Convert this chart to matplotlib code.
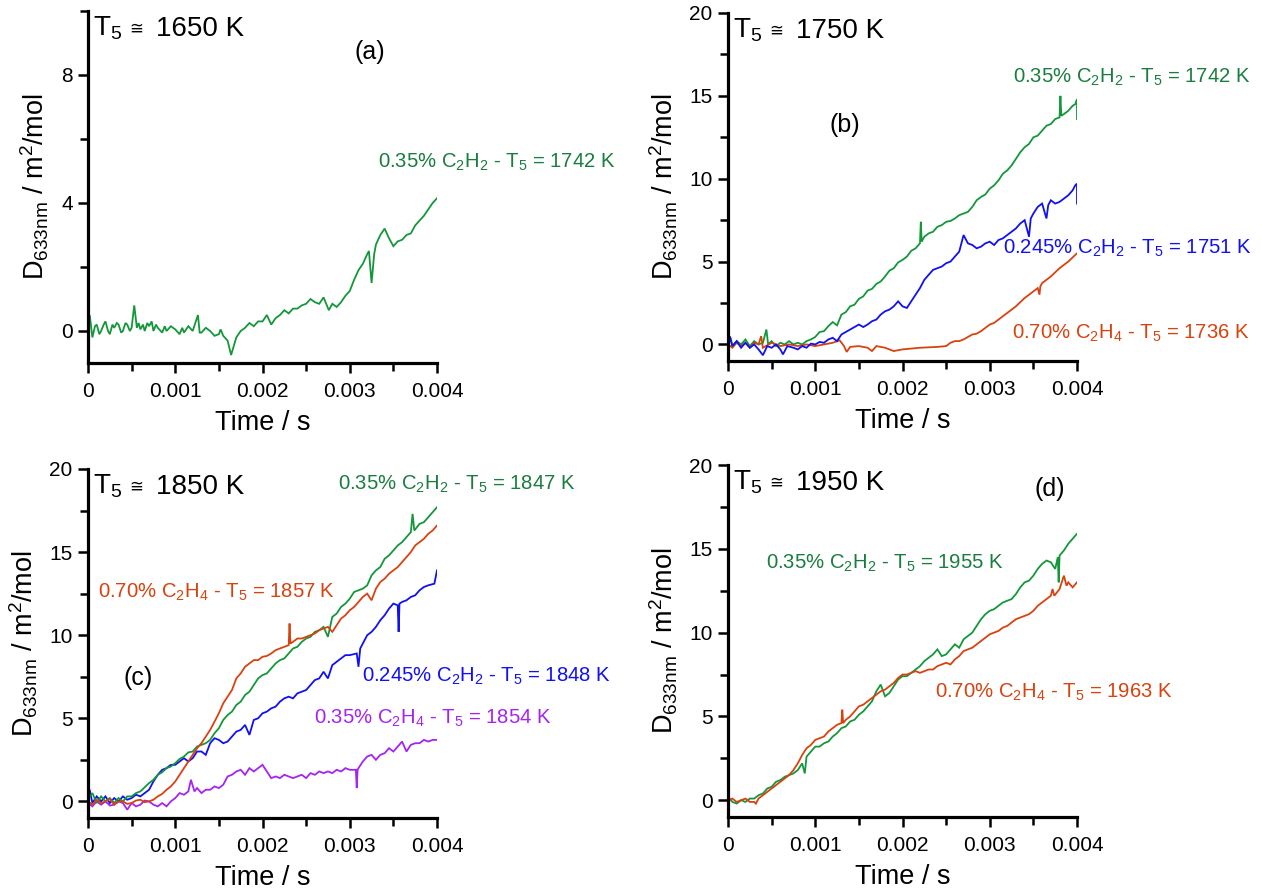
import numpy as np
import matplotlib
matplotlib.use("Agg")
import matplotlib.pyplot as plt
from matplotlib.ticker import MultipleLocator, FixedLocator, FixedFormatter
from matplotlib.transforms import offset_copy

plt.rcParams['font.family'] = ['Liberation Sans', 'DejaVu Sans']
plt.rcParams['mathtext.fontset'] = 'custom'
plt.rcParams['mathtext.rm'] = 'Liberation Sans'
plt.rcParams['mathtext.it'] = 'Liberation Sans'
plt.rcParams['mathtext.bf'] = 'Liberation Sans:bold'

# ---------------- data (time in ms, D in m2/mol) ----------------
a_green = [(0, 0.1), (0.02, 0.5), (0.05, -0.2), (0.08, 0.15), (0.1, 0.2), (0.13, -0.1), (0.15, 0.0),
           (0.18, 0.2), (0.2, 0.3), (0.23, 0.0), (0.25, -0.1), (0.28, 0.2), (0.3, 0.1), (0.33, 0.25),
           (0.35, 0.2), (0.38, -0.05), (0.4, 0.0), (0.43, 0.25), (0.45, 0.2), (0.48, 0.0), (0.5, 0.1),
           (0.53, 0.8), (0.56, 0.1), (0.58, 0.25), (0.6, 0.05), (0.63, 0.2), (0.65, 0.0), (0.68, 0.25),
           (0.7, 0.15), (0.73, 0.3), (0.75, 0.0), (0.78, 0.2), (0.8, 0.1), (0.85, -0.05), (0.88, 0.15),
           (0.9, 0.0), (0.95, 0.15), (1.0, 0.05), (1.05, -0.1), (1.08, 0.1), (1.1, -0.05), (1.15, 0.15),
           (1.2, 0.0), (1.26, 0.5), (1.28, -0.05), (1.3, -0.05), (1.35, 0.1), (1.4, 0.0), (1.45, -0.15),
           (1.5, -0.1), (1.52, 0.05), (1.55, -0.15), (1.6, -0.3), (1.64, -0.75), (1.7, -0.2), (1.75, 0.0),
           (1.8, 0.1), (1.85, 0.25), (1.9, 0.15), (1.95, 0.3), (2.0, 0.3), (2.05, 0.5), (2.1, 0.2),
           (2.15, 0.4), (2.2, 0.5), (2.25, 0.65), (2.3, 0.55), (2.35, 0.7), (2.4, 0.7), (2.45, 0.8),
           (2.5, 0.85), (2.55, 1.0), (2.6, 0.9), (2.65, 0.85), (2.7, 1.05), (2.76, 0.65), (2.8, 0.85),
           (2.85, 0.75), (2.9, 0.9), (2.95, 1.1), (3.0, 1.25), (3.05, 1.6), (3.1, 1.9), (3.15, 2.1),
           (3.2, 2.4), (3.22, 2.5), (3.25, 1.5), (3.28, 2.4), (3.3, 2.7), (3.35, 3.0), (3.4, 3.2),
           (3.45, 2.9), (3.5, 2.65), (3.55, 2.8), (3.6, 2.85), (3.65, 3.0), (3.7, 3.05), (3.75, 3.3),
           (3.8, 3.45), (3.85, 3.6), (3.9, 3.8), (3.95, 4.0), (4.0, 4.15)]

b_green = [(0, 0.1), (0.03, 0.4), (0.05, -0.1), (0.1, 0.2), (0.15, 0.0), (0.2, 0.3), (0.25, -0.1),
           (0.3, 0.2), (0.35, 0.0), (0.4, 0.1), (0.44, 0.9), (0.46, 0.0), (0.5, 0.2), (0.55, -0.1),
           (0.6, 0.1), (0.65, 0.0), (0.7, 0.2), (0.75, 0.0), (0.8, 0.1), (0.85, 0.0), (0.9, 0.2),
           (0.95, 0.3), (1.0, 0.45), (1.05, 0.75), (1.1, 0.8), (1.15, 1.1), (1.2, 1.35), (1.25, 1.15),
           (1.3, 1.8), (1.35, 1.95), (1.4, 2.3), (1.45, 2.4), (1.5, 2.75), (1.55, 2.9), (1.6, 3.25),
           (1.65, 3.35), (1.7, 3.65), (1.75, 3.8), (1.8, 4.1), (1.85, 4.45), (1.9, 4.6), (1.95, 4.95),
           (2.0, 5.1), (2.05, 5.3), (2.1, 5.65), (2.15, 5.8), (2.2, 6.1), (2.21, 7.4), (2.22, 6.2),
           (2.25, 6.5), (2.3, 6.7), (2.35, 6.8), (2.4, 7.1), (2.45, 7.2), (2.5, 7.4), (2.55, 7.45),
           (2.6, 7.6), (2.65, 7.8), (2.7, 7.9), (2.75, 8.0), (2.8, 8.3), (2.85, 8.7), (2.9, 8.9),
           (2.95, 9.05), (3.0, 9.4), (3.05, 9.6), (3.1, 9.9), (3.15, 10.3), (3.2, 10.5), (3.25, 10.8),
           (3.3, 11.2), (3.35, 11.6), (3.4, 11.9), (3.45, 12.1), (3.5, 12.5), (3.55, 12.6), (3.6, 12.9),
           (3.65, 13.2), (3.7, 13.3), (3.75, 13.6), (3.8, 13.7), (3.81, 15.0), (3.82, 13.8), (3.85, 13.9),
           (3.9, 14.1), (3.95, 14.4), (3.98, 14.5), (4.0, 14.8), (4.0, 13.6)]

b_blue = [(0, 0.0), (0.02, 0.5), (0.05, -0.1), (0.1, 0.2), (0.15, -0.2), (0.2, 0.1), (0.25, -0.2),
          (0.3, 0.0), (0.35, -0.3), (0.4, -0.65), (0.45, -0.1), (0.5, -0.2), (0.55, 0.0), (0.6, -0.3),
          (0.63, -0.6), (0.68, -0.1), (0.75, -0.2), (0.8, -0.3), (0.85, -0.1), (0.9, -0.2), (0.95, 0.05),
          (1.0, 0.0), (1.05, 0.15), (1.1, 0.1), (1.15, 0.3), (1.2, 0.4), (1.25, 0.2), (1.3, 0.6),
          (1.35, 0.75), (1.4, 0.9), (1.45, 1.05), (1.5, 1.2), (1.55, 1.05), (1.6, 1.2), (1.65, 1.4),
          (1.7, 1.5), (1.75, 1.8), (1.8, 2.0), (1.85, 2.1), (1.9, 2.3), (1.95, 2.6), (2.0, 2.3),
          (2.05, 2.2), (2.1, 2.6), (2.15, 3.0), (2.2, 3.4), (2.25, 3.9), (2.3, 4.2), (2.35, 4.5),
          (2.4, 4.6), (2.45, 4.7), (2.5, 4.9), (2.55, 5.0), (2.6, 5.3), (2.65, 5.6), (2.7, 6.6),
          (2.75, 6.1), (2.8, 6.0), (2.85, 5.8), (2.9, 5.9), (2.95, 6.1), (3.0, 6.2), (3.05, 6.0),
          (3.1, 6.3), (3.15, 6.4), (3.2, 6.6), (3.25, 6.8), (3.3, 7.0), (3.35, 7.3), (3.4, 7.5),
          (3.45, 6.5), (3.47, 7.6), (3.5, 7.9), (3.55, 8.3), (3.6, 8.5), (3.65, 7.6), (3.67, 8.4),
          (3.7, 8.7), (3.75, 8.5), (3.8, 8.6), (3.85, 8.8), (3.9, 9.0), (3.95, 9.3), (3.98, 9.6),
          (4.0, 9.7), (4.0, 8.5)]

b_orange = [(0, 0.0), (0.05, -0.2), (0.1, 0.1), (0.15, -0.1), (0.2, 0.1), (0.25, -0.2), (0.3, 0.1),
            (0.35, 0.0), (0.38, 0.5), (0.4, -0.2), (0.5, 0.1), (0.6, -0.1), (0.7, 0.0), (0.8, -0.1),
            (0.9, 0.0), (1.0, -0.1), (1.1, 0.0), (1.2, 0.1), (1.28, 0.25), (1.33, -0.1), (1.36, -0.45),
            (1.4, -0.15), (1.5, -0.1), (1.6, -0.2), (1.65, -0.4), (1.7, -0.1), (1.8, -0.2), (1.9, -0.4),
            (2.0, -0.3), (2.2, -0.2), (2.4, -0.15), (2.5, -0.1), (2.55, 0.1), (2.6, 0.2), (2.65, 0.2),
            (2.7, 0.3), (2.75, 0.45), (2.8, 0.6), (2.85, 0.65), (2.9, 0.8), (2.95, 1.0), (3.0, 1.2),
            (3.05, 1.3), (3.1, 1.5), (3.15, 1.7), (3.2, 1.9), (3.25, 2.1), (3.3, 2.3), (3.35, 2.55),
            (3.4, 2.8), (3.45, 3.0), (3.5, 3.2), (3.55, 3.4), (3.57, 3.0), (3.58, 3.5), (3.6, 3.7),
            (3.65, 3.9), (3.7, 4.1), (3.75, 4.35), (3.8, 4.6), (3.85, 4.8), (3.9, 5.0), (3.95, 5.25),
            (4.0, 5.5)]

c_green = [(0, 0.1), (0.05, 0.5), (0.1, -0.1), (0.15, 0.3), (0.2, 0.0), (0.25, 0.2), (0.3, -0.1),
           (0.35, 0.2), (0.4, 0.0), (0.45, 0.3), (0.5, 0.3), (0.55, 0.5), (0.6, 0.6), (0.65, 0.85),
           (0.7, 1.1), (0.75, 1.3), (0.8, 1.6), (0.85, 1.75), (0.9, 2.0), (0.95, 2.1), (1.0, 2.3),
           (1.05, 2.55), (1.1, 2.7), (1.15, 2.95), (1.2, 3.0), (1.25, 3.3), (1.3, 3.4), (1.35, 3.5),
           (1.4, 3.7), (1.45, 4.1), (1.5, 4.4), (1.55, 4.9), (1.6, 5.2), (1.65, 5.4), (1.7, 5.8),
           (1.75, 6.0), (1.8, 6.4), (1.85, 6.6), (1.9, 7.0), (1.95, 7.4), (2.0, 7.6), (2.05, 7.7),
           (2.1, 8.0), (2.15, 8.3), (2.2, 8.5), (2.25, 8.6), (2.3, 8.9), (2.35, 9.2), (2.4, 9.3),
           (2.45, 9.6), (2.5, 9.8), (2.55, 9.9), (2.6, 10.2), (2.65, 10.3), (2.7, 10.5), (2.75, 9.9),
           (2.8, 11.1), (2.85, 11.3), (2.9, 11.7), (2.95, 11.9), (3.0, 12.2), (3.05, 12.6), (3.1, 12.7),
           (3.15, 12.8), (3.2, 13.0), (3.25, 13.6), (3.3, 13.9), (3.35, 14.1), (3.4, 14.6), (3.45, 14.8),
           (3.5, 15.1), (3.55, 15.4), (3.6, 15.6), (3.65, 15.9), (3.7, 16.2), (3.72, 17.3), (3.74, 16.3),
           (3.8, 16.7), (3.85, 16.8), (3.9, 17.1), (3.95, 17.4), (4.0, 17.7)]

c_orange = [(0, 0.0), (0.05, -0.2), (0.1, 0.1), (0.15, -0.1), (0.2, 0.0), (0.25, 0.15), (0.3, -0.2),
            (0.35, 0.0), (0.4, 0.0), (0.45, -0.15), (0.5, -0.1), (0.55, 0.05), (0.6, 0.1), (0.65, -0.05),
            (0.7, 0.0), (0.75, 0.1), (0.8, 0.3), (0.85, 0.45), (0.9, 0.7), (0.95, 0.9), (1.0, 1.2),
            (1.05, 1.6), (1.1, 2.0), (1.15, 2.4), (1.2, 2.8), (1.25, 3.2), (1.3, 3.5), (1.35, 3.9),
            (1.4, 4.3), (1.45, 4.8), (1.5, 5.3), (1.55, 5.9), (1.6, 6.3), (1.65, 6.7), (1.7, 7.4),
            (1.75, 7.7), (1.8, 8.1), (1.85, 8.3), (1.9, 8.5), (1.95, 8.5), (2.0, 8.7), (2.05, 8.75),
            (2.1, 8.9), (2.15, 9.1), (2.2, 9.2), (2.25, 9.3), (2.3, 9.4), (2.31, 10.7), (2.32, 9.5),
            (2.35, 9.6), (2.4, 9.8), (2.45, 9.8), (2.5, 9.9), (2.55, 10.0), (2.6, 10.1), (2.65, 10.3),
            (2.7, 10.4), (2.75, 10.5), (2.8, 10.2), (2.85, 10.6), (2.9, 11.0), (2.95, 11.2), (3.0, 11.5),
            (3.05, 11.7), (3.1, 12.0), (3.15, 12.3), (3.2, 12.5), (3.25, 12.1), (3.3, 12.8), (3.35, 13.2),
            (3.4, 13.4), (3.45, 13.7), (3.5, 13.9), (3.55, 14.1), (3.6, 14.4), (3.65, 14.7), (3.7, 15.0),
            (3.75, 15.4), (3.8, 15.6), (3.85, 15.8), (3.9, 16.1), (3.95, 16.3), (4.0, 16.6)]

c_blue = [(0, 0.2), (0.02, 0.7), (0.05, -0.1), (0.1, 0.3), (0.15, 0.0), (0.2, 0.3), (0.25, -0.1),
          (0.3, 0.2), (0.35, 0.0), (0.4, 0.3), (0.45, 0.1), (0.5, 0.2), (0.55, 0.4), (0.6, 0.3),
          (0.65, 0.5), (0.7, 0.7), (0.75, 1.2), (0.8, 1.6), (0.85, 1.9), (0.9, 2.0), (0.95, 2.2),
          (1.0, 2.2), (1.05, 2.4), (1.1, 2.6), (1.15, 2.4), (1.2, 2.6), (1.25, 3.0), (1.3, 3.0),
          (1.35, 2.8), (1.4, 3.5), (1.45, 3.8), (1.5, 3.7), (1.55, 3.5), (1.6, 3.6), (1.65, 3.9),
          (1.7, 4.2), (1.75, 4.3), (1.8, 4.6), (1.85, 4.0), (1.9, 4.9), (1.95, 5.0), (2.0, 5.3),
          (2.05, 5.4), (2.1, 5.6), (2.15, 5.7), (2.2, 6.0), (2.25, 6.2), (2.3, 6.3), (2.35, 6.2),
          (2.4, 6.5), (2.45, 6.6), (2.5, 6.7), (2.55, 7.0), (2.6, 7.3), (2.65, 7.4), (2.7, 7.8),
          (2.75, 7.4), (2.8, 8.2), (2.85, 8.4), (2.9, 8.6), (2.95, 8.8), (3.0, 8.8), (3.08, 8.9),
          (3.1, 8.1), (3.12, 9.2), (3.15, 9.5), (3.2, 10.0), (3.25, 10.2), (3.3, 10.5), (3.35, 10.9),
          (3.4, 11.2), (3.45, 11.6), (3.5, 11.9), (3.55, 11.8), (3.56, 10.2), (3.57, 11.9), (3.6, 12.0),
          (3.65, 12.1), (3.7, 12.3), (3.75, 12.4), (3.8, 12.7), (3.85, 12.9), (3.9, 13.0), (3.97, 13.1),
          (4.0, 13.9)]

c_purple = [(0, -0.1), (0.05, -0.3), (0.1, 0.0), (0.15, -0.2), (0.2, 0.0), (0.25, -0.25), (0.3, -0.2),
            (0.35, 0.0), (0.4, -0.1), (0.45, -0.5), (0.5, -0.1), (0.55, -0.3), (0.6, -0.2), (0.65, 0.05),
            (0.7, 0.0), (0.75, -0.2), (0.8, -0.3), (0.85, -0.1), (0.9, -0.3), (0.95, 0.0), (1.0, 0.2),
            (1.05, 0.5), (1.1, 0.4), (1.15, 0.6), (1.18, 1.3), (1.22, 0.6), (1.25, 0.8), (1.3, 0.5),
            (1.35, 0.7), (1.4, 0.7), (1.45, 0.9), (1.5, 0.8), (1.55, 1.0), (1.6, 1.5), (1.65, 1.6),
            (1.7, 1.8), (1.75, 1.9), (1.8, 1.6), (1.85, 2.0), (1.9, 1.8), (1.95, 2.0), (2.0, 2.2),
            (2.05, 1.8), (2.1, 1.4), (2.15, 1.5), (2.2, 1.4), (2.25, 1.6), (2.3, 1.5), (2.35, 1.4),
            (2.4, 1.5), (2.45, 1.6), (2.5, 1.4), (2.55, 1.7), (2.6, 1.6), (2.65, 1.8), (2.7, 1.7),
            (2.75, 1.8), (2.8, 1.7), (2.85, 1.9), (2.9, 1.8), (2.95, 2.0), (3.0, 1.9), (3.07, 1.9),
            (3.08, 0.8), (3.09, 1.9), (3.1, 2.0), (3.15, 2.4), (3.2, 2.7), (3.25, 2.8), (3.3, 2.5),
            (3.35, 2.8), (3.4, 2.9), (3.45, 3.2), (3.5, 3.0), (3.55, 3.3), (3.6, 3.6), (3.65, 3.0),
            (3.7, 3.4), (3.75, 3.5), (3.8, 3.5), (3.85, 3.7), (3.9, 3.6), (3.95, 3.7), (4.0, 3.7)]

d_green = [(0, 0.2), (0.05, -0.1), (0.1, -0.2), (0.15, 0.0), (0.2, -0.1), (0.25, 0.1), (0.3, 0.1),
           (0.35, 0.3), (0.4, 0.4), (0.45, 0.7), (0.5, 0.8), (0.55, 1.1), (0.6, 1.2), (0.65, 1.4),
           (0.7, 1.5), (0.75, 1.6), (0.8, 1.8), (0.85, 2.2), (0.88, 1.6), (0.9, 2.6), (0.95, 2.9),
           (1.0, 3.2), (1.05, 3.2), (1.1, 3.4), (1.15, 3.5), (1.2, 3.8), (1.25, 4.0), (1.3, 4.3),
           (1.35, 4.4), (1.4, 4.7), (1.45, 4.8), (1.5, 5.1), (1.55, 5.3), (1.6, 5.6), (1.65, 5.9),
           (1.7, 6.5), (1.75, 6.9), (1.8, 6.2), (1.85, 6.4), (1.9, 6.8), (1.95, 7.2), (2.0, 7.4),
           (2.05, 7.4), (2.1, 7.6), (2.15, 7.8), (2.2, 8.0), (2.25, 8.3), (2.3, 8.5), (2.35, 8.7),
           (2.4, 9.0), (2.45, 8.6), (2.5, 8.7), (2.55, 9.0), (2.6, 9.3), (2.65, 9.1), (2.7, 9.6),
           (2.75, 9.8), (2.8, 10.0), (2.85, 10.4), (2.9, 10.8), (2.95, 11.1), (3.0, 11.3), (3.05, 11.4),
           (3.1, 11.6), (3.15, 11.8), (3.2, 11.9), (3.25, 12.0), (3.3, 12.3), (3.35, 12.7), (3.4, 13.0),
           (3.45, 13.1), (3.5, 13.4), (3.55, 13.8), (3.6, 14.1), (3.65, 14.3), (3.7, 14.2), (3.75, 13.8),
           (3.78, 14.5), (3.79, 13.0), (3.8, 14.6), (3.85, 14.9), (3.9, 15.3), (3.95, 15.6), (4.0, 15.9)]

d_orange = [(0, 0.0), (0.05, 0.1), (0.1, -0.1), (0.15, 0.0), (0.2, 0.1), (0.25, -0.1), (0.3, -0.1),
            (0.32, -0.2), (0.35, 0.1), (0.4, 0.3), (0.45, 0.5), (0.5, 0.7), (0.55, 0.9), (0.6, 1.1),
            (0.65, 1.3), (0.7, 1.5), (0.75, 1.8), (0.8, 2.2), (0.85, 2.7), (0.9, 3.1), (0.95, 3.3),
            (1.0, 3.6), (1.05, 3.7), (1.1, 3.8), (1.15, 4.1), (1.2, 4.3), (1.25, 4.5), (1.3, 4.6),
            (1.31, 5.4), (1.32, 4.6), (1.35, 4.8), (1.4, 5.0), (1.45, 5.3), (1.5, 5.6), (1.55, 5.7),
            (1.6, 5.9), (1.65, 6.1), (1.7, 6.3), (1.75, 6.5), (1.8, 6.6), (1.85, 6.8), (1.9, 7.0),
            (1.95, 7.3), (2.0, 7.5), (2.05, 7.5), (2.1, 7.6), (2.15, 7.7), (2.2, 7.6), (2.25, 7.7),
            (2.3, 7.8), (2.35, 7.8), (2.4, 8.0), (2.45, 8.1), (2.5, 8.2), (2.55, 8.1), (2.6, 8.4),
            (2.65, 8.6), (2.7, 8.9), (2.75, 9.0), (2.8, 9.1), (2.85, 9.3), (2.9, 9.5), (2.95, 9.7),
            (3.0, 9.9), (3.05, 10.0), (3.1, 10.1), (3.15, 10.3), (3.2, 10.4), (3.25, 10.6), (3.3, 10.8),
            (3.35, 10.9), (3.4, 11.0), (3.45, 11.1), (3.5, 11.3), (3.55, 11.6), (3.6, 11.8), (3.65, 12.0),
            (3.7, 12.2), (3.72, 12.6), (3.74, 12.2), (3.8, 12.6), (3.85, 13.4), (3.88, 12.8), (3.9, 13.0),
            (3.95, 12.7), (4.0, 13.0)]

xtick_vals = [0, 0.001, 0.002, 0.003, 0.004]
xtick_labels = ['0', '0.001', '0.002', '0.003', '0.004']
titles = ['1650 K', '1750 K', '1850 K', '1950 K']
panel_tags = ['(a)', '(b)', '(c)', '(d)']

GREEN = '#13973a'
GREEN_T = '#1a7d40'
BLUE = '#1010f2'
ORANGE = '#d8420f'
PURPLE = '#a424f0'

fig = plt.figure(figsize=(12.62, 8.92), dpi=100)
W, H = 1262, 892
def make_ax(left, top, right, bottom):
    return fig.add_axes([left / W, 1 - bottom / H, (right - left) / W, (bottom - top) / H])

ax_a = make_ax(88, 11, 437, 363)
ax_b = make_ax(728, 13, 1077, 361)
ax_c = make_ax(88, 469, 437, 818)
ax_d = make_ax(728, 465, 1077, 817)

def plot_series(ax, pairs, color):
    arr = np.array(pairs, dtype=float)
    ax.plot(arr[:, 0] / 1000.0, arr[:, 1], color=color, lw=1.3, solid_joinstyle='miter')

def style(ax, ymax, ymajor, yminor):
    for s in ['top', 'right']:
        ax.spines[s].set_visible(False)
    for s in ['left', 'bottom']:
        ax.spines[s].set_linewidth(2.3)
    ax.set_xlim(0, 0.004)
    ax.set_ylim(-1, ymax)
    ax.xaxis.set_major_locator(FixedLocator(xtick_vals))
    ax.xaxis.set_major_formatter(FixedFormatter(xtick_labels))
    ax.xaxis.set_minor_locator(MultipleLocator(0.0005))
    ax.yaxis.set_major_locator(MultipleLocator(ymajor))
    ax.yaxis.set_minor_locator(MultipleLocator(yminor))
    ax.tick_params(which='major', direction='out', length=7, width=1.8, labelsize=15)
    ax.tick_params(which='minor', direction='out', length=5.5, width=1.8)
    ax.tick_params(axis='x', which='major', pad=7)
    ax.tick_params(axis='y', which='major', pad=4)
    ax.set_xlabel('Time / s', fontsize=19.5, labelpad=6)
    ax.set_ylabel(r'D$_{\mathrm{633nm}}$ / m$^{2}$/mol', fontsize=19.5, labelpad=7)

def title(ax, txt):
    t1 = offset_copy(ax.transAxes, fig=fig, x=5, y=-25, units='dots')
    ax.text(0, 1, r'T$_5$', transform=t1, fontsize=20, ha='left', va='baseline')
    t2 = offset_copy(ax.transAxes, fig=fig, x=48, y=-18, units='dots')
    ax.text(0, 1, '\u2245', transform=t2, fontsize=12, ha='center', va='center',
            family='DejaVu Sans')
    t3 = offset_copy(ax.transAxes, fig=fig, x=68, y=-25, units='dots')
    ax.text(0, 1, txt, transform=t3, fontsize=20, ha='left', va='baseline')

LBL = 14.6
TAG = 18
# (a)
plot_series(ax_a, a_green, GREEN)
style(ax_a, 10, 4, 2)
title(ax_a, titles[0])
ax_a.text(0.003232, 8.72, panel_tags[0], fontsize=TAG, ha='center', va='center')
ax_a.text(0.003324, 5.28, r'0.35% C$_2$H$_2$ - T$_5$ = 1742 K', color=GREEN_T, fontsize=LBL, va='center')

# (b)
plot_series(ax_b, b_green, GREEN)
plot_series(ax_b, b_orange, ORANGE)
plot_series(ax_b, b_blue, BLUE)
style(ax_b, 20, 5, 2.5)
title(ax_b, titles[1])
ax_b.text(0.001341, 13.23, panel_tags[1], fontsize=TAG, ha='center', va='center')
ax_b.text(0.003266, 16.13, r'0.35% C$_2$H$_2$ - T$_5$ = 1742 K', color=GREEN_T, fontsize=LBL, va='center')
ax_b.text(0.003152, 5.80, r'0.245% C$_2$H$_2$ - T$_5$ = 1751 K', color=BLUE, fontsize=LBL, va='center')
ax_b.text(0.003255, 0.66, r'0.70% C$_2$H$_4$ - T$_5$ = 1736 K', color=ORANGE, fontsize=LBL, va='center')

# (c)
plot_series(ax_c, c_purple, PURPLE)
plot_series(ax_c, c_blue, BLUE)
plot_series(ax_c, c_green, GREEN)
plot_series(ax_c, c_orange, ORANGE)
style(ax_c, 20, 5, 2.5)
title(ax_c, titles[2])
ax_c.text(0.000573, 7.41, panel_tags[2], fontsize=TAG, ha='center', va='center')
ax_c.text(0.002865, 19.1, r'0.35% C$_2$H$_2$ - T$_5$ = 1847 K', color=GREEN_T, fontsize=LBL, va='center')
ax_c.text(0.000115, 12.6, r'0.70% C$_2$H$_4$ - T$_5$ = 1857 K', color=ORANGE, fontsize=LBL, va='center')
ax_c.text(0.003140, 7.53, r'0.245% C$_2$H$_2$ - T$_5$ = 1848 K', color=BLUE, fontsize=LBL, va='center')
ax_c.text(0.002590, 5.0, r'0.35% C$_2$H$_4$ - T$_5$ = 1854 K', color=PURPLE, fontsize=LBL, va='center')

# (d)
plot_series(ax_d, d_green, GREEN)
plot_series(ax_d, d_orange, ORANGE)
style(ax_d, 20, 5, 2.5)
title(ax_d, titles[3])
ax_d.text(0.00369, 18.57, panel_tags[3], fontsize=TAG, ha='center', va='center')
ax_d.text(0.000436, 14.15, r'0.35% C$_2$H$_2$ - T$_5$ = 1955 K', color=GREEN_T, fontsize=LBL, va='center')
ax_d.text(0.002372, 6.45, r'0.70% C$_2$H$_4$ - T$_5$ = 1963 K', color=ORANGE, fontsize=LBL, va='center')

fig.savefig('out.png', dpi=100)
